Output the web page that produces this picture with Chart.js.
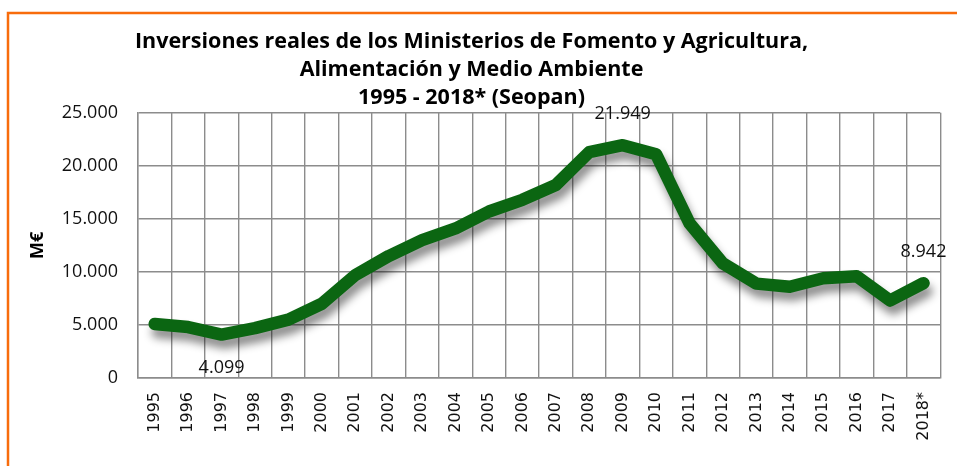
<!DOCTYPE html>
<html><head><meta charset="utf-8">
<script src="https://cdn.jsdelivr.net/npm/chart.js@4"></script>
<style>html,body{margin:0;padding:0;background:#fff;} #wrap{width:957px;height:466px;position:relative;}</style>
</head><body><div id="wrap"><canvas id="c" width="957" height="466"></canvas></div>
<script>
const categories = ['1995','1996','1997','1998','1999','2000','2001','2002','2003','2004','2005','2006','2007','2008','2009','2010','2011','2012','2013','2014','2015','2016','2017','2018*'];
const values = [5100,4800,4099,4700,5500,7000,9700,11500,13000,14100,15700,16800,18200,21300,21949,21100,14600,10800,8900,8600,9400,9600,7300,8942];
const labelAbove = ['2009','2018*'];
const labelBelow = ['1997'];
const titleLines = ['Inversiones reales de los Ministerios de Fomento y Agricultura,','Alimentación y Medio Ambiente','1995 - 2018* (Seopan)'];
const yTitle = 'M€';
const yMin = 0, yMax = 25000, yStep = 5000;

function fmt(v){ return String(v).replace(/\B(?=(\d{3})+(?!\d))/g,'.'); }

const frame = {
  id:'frame',
  beforeDraw(chart){
    const c = chart.ctx; c.save();
    c.fillStyle='#fff'; c.fillRect(0,0,chart.width,chart.height);
    c.strokeStyle='#f86c0c'; c.lineWidth=2.5;
    c.beginPath(); c.moveTo(8,chart.height+5); c.lineTo(8,13); c.lineTo(chart.width+5,13); c.stroke();
    c.restore();
  }
};
const shadow = {
  id:'shadow',
  beforeDatasetDraw(chart){ const c=chart.ctx; c.save(); c.shadowColor='rgba(0,0,0,0.45)'; c.shadowBlur=8; c.shadowOffsetX=3; c.shadowOffsetY=8; },
  afterDatasetDraw(chart){ chart.ctx.restore(); }
};
const dataLabels = {
  id:'dataLabels',
  afterDatasetsDraw(chart){
    const c = chart.ctx, meta = chart.getDatasetMeta(0);
    c.save(); c.font='18px "Open Sans"'; c.fillStyle='#111'; c.textAlign='center'; c.textBaseline='middle';
    categories.forEach((cat,i)=>{
      const p = meta.data[i];
      if (labelAbove.includes(cat)) c.fillText(fmt(values[i]), p.x, p.y-31);
      if (labelBelow.includes(cat)) c.fillText(fmt(values[i]), p.x, p.y+33);
    });
    c.restore();
  }
};

new Chart(document.getElementById('c'), {
  type:'line',
  data:{labels:categories, datasets:[{data:values, borderColor:'#0b6612', borderWidth:12.5, pointRadius:0, tension:0, borderCapStyle:'round', borderJoinStyle:'round', fill:false}]},
  options:{
    responsive:false, animation:false, devicePixelRatio:1,
    layout:{padding:{left:0,right:14,top:0,bottom:0}},
    plugins:{
      legend:{display:false}, tooltip:{enabled:false},
      title:{display:true, text:titleLines, color:'#000', font:{family:'Open Sans', size:21.5, weight:'bold', lineHeight:1.3}, padding:{top:28,bottom:1}}
    },
    scales:{
      x:{
        offset:true,
        grid:{offset:true, color:'#8c8c8c', lineWidth:1.4, drawTicks:false},
        border:{color:'#8c8c8c', width:1.4},
        ticks:{minRotation:90, maxRotation:90, autoSkip:false, color:'#111', font:{family:'DejaVu Sans', size:16}, padding:14},
        afterFit(s){ s.height = 88; }
      },
      y:{
        min:yMin, max:yMax,
        grid:{color:'#8c8c8c', lineWidth:1.4, drawTicks:false},
        border:{color:'#8c8c8c', width:1.4},
        ticks:{stepSize:yStep, callback:fmt, color:'#111', font:{family:'Open Sans', size:18}, padding:20},
        title:{display:true, text:yTitle, color:'#000', font:{family:'Open Sans', size:18, weight:'bold', lineHeight:1.2}, padding:{top:27,bottom:0}},
        afterFit(s){ s.width = 138; }
      }
    }
  },
  plugins:[frame, shadow, dataLabels]
});
</script></body></html>
